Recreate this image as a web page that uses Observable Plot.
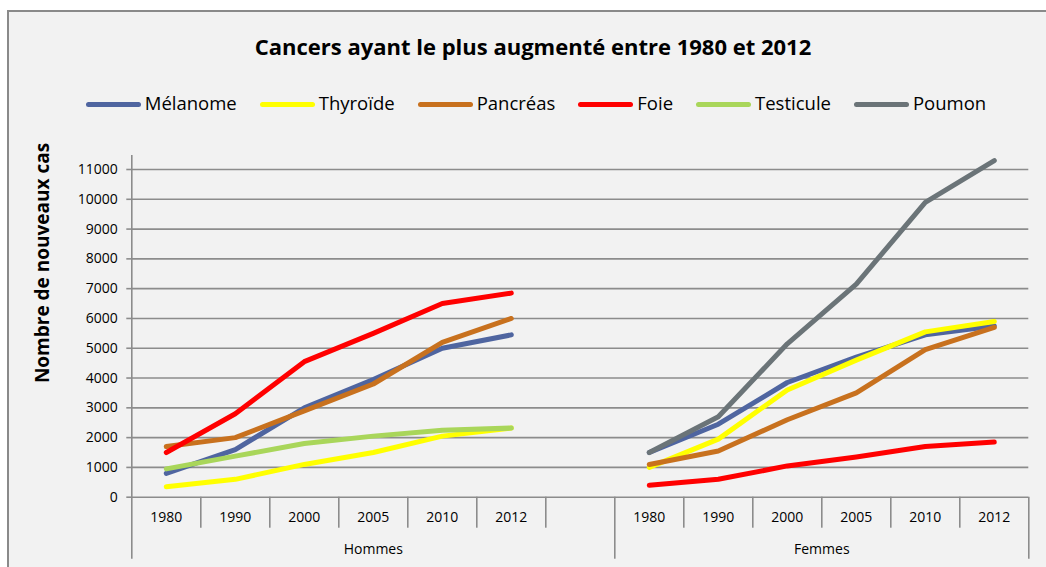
<!DOCTYPE html>
<html>
<head>
<meta charset="utf-8">
<script src="https://cdn.jsdelivr.net/npm/d3@7"></script>
<script src="https://cdn.jsdelivr.net/npm/@observablehq/plot@0.6"></script>
<style>
  html, body { margin: 0; padding: 0; background: #ffffff; width: 1046px; height: 567px; overflow: hidden; }
  body { font-family: "Open Sans", sans-serif; position: relative; }
  #frame { position: absolute; left: 7px; top: 10px; width: 1100px; height: 620px; background: #f2f2f2;
           border-left: 2px solid #8a8a8a; border-top: 2px solid #8a8a8a; }
  #title { position: absolute; left: 0; width: 1066px; top: 34.5px; text-align: center; font-weight: bold;
           font-size: 22px; line-height: 22px; color: #000; }
  #legend { position: absolute; left: 0; width: 1072px; top: 93px; display: flex; justify-content: center;
            font-size: 18.5px; line-height: 20px; color: #000; }
  .item { display: flex; align-items: center; margin: 0 11.5px; }
  .sw { width: 55px; height: 5px; border-radius: 3px; margin-right: 4px; margin-top: 2px; }
  #ytitle { position: absolute; left: 42px; top: 263px; width: 0; height: 0; }
  #ytitle span { position: absolute; left: 0; top: 0; transform: translate(-50%, -50%) rotate(-90deg);
                 white-space: nowrap; font-weight: bold; font-size: 19px; line-height: 19px; color: #000; }
  #chart { position: absolute; left: 0; top: 125px; }
</style>
</head>
<body>
<div id="frame"></div>
<div id="title">Cancers ayant le plus augmenté entre 1980 et 2012</div>
<div id="legend"></div>
<div id="chart"></div>
<div id="ytitle"><span>Nombre de nouveaux cas</span></div>
<script>
const years = ["1980", "1990", "2000", "2005", "2010", "2012"];
const groups = ["Hommes", "Femmes"];
const series = ["Mélanome", "Thyroïde", "Pancréas", "Foie", "Testicule", "Poumon"];
const colors = ["#4f65a0", "#ffff00", "#c8711e", "#ff0000", "#a9d65a", "#6b7478"];
const yTicks = [0, 1000, 2000, 3000, 4000, 5000, 6000, 7000, 8000, 9000, 10000, 11000];

// Hommes
const melanomeH  = [800, 1600, 3000, 3950, 5000, 5450];
const thyroideH  = [350, 600, 1100, 1500, 2050, 2320];
const pancreasH  = [1700, 2000, 2900, 3800, 5200, 6000];
const foieH      = [1500, 2800, 4550, 5500, 6500, 6850];
const testiculeH = [950, 1380, 1800, 2050, 2250, 2320];
const poumonH    = null;
// Femmes
const melanomeF  = [1500, 2450, 3850, 4700, 5450, 5750];
const thyroideF  = [1000, 1950, 3600, 4600, 5550, 5900];
const pancreasF  = [1100, 1550, 2600, 3500, 4950, 5700];
const foieF      = [400, 600, 1050, 1350, 1700, 1850];
const testiculeF = null;
const poumonF    = [1500, 2700, 5150, 7150, 9900, 11300];

const valuesBySeries = {
  "Mélanome":  [melanomeH, melanomeF],
  "Thyroïde":  [thyroideH, thyroideF],
  "Pancréas":  [pancreasH, pancreasF],
  "Foie":      [foieH, foieF],
  "Testicule": [testiculeH, testiculeF],
  "Poumon":    [poumonH, poumonF]
};

// category slots: Hommes years, one empty slot, Femmes years
const slots = [];
groups.forEach((g, gi) => {
  years.forEach(y => slots.push({group: g, year: y}));
  if (gi === 0) slots.push({group: g, year: ""});
});
const slotIndex = (g, y) => slots.findIndex(s => s.group === g && s.year === y);

const rows = [];
series.forEach(s => {
  groups.forEach((g, gi) => {
    const vals = valuesBySeries[s][gi];
    if (!vals) return;
    years.forEach((y, yi) => {
      rows.push({series: s, key: s + "|" + g, xi: slotIndex(g, y) + 0.5, value: vals[yi]});
    });
  });
});

const n = slots.length;
const boundaries = d3.range(0, n + 1);
const groupEdges = groups.map(g => {
  const idx = slots.map((s, i) => s.group === g ? i : -1).filter(i => i >= 0);
  return {group: g, start: d3.min(idx), end: d3.max(idx) + 1};
});
const groupStarts = groupEdges.map(e => e.start).concat([n]);
const yearBoundaries = boundaries.filter(b => !groupStarts.includes(b));
const yearCenters = slots.map((s, i) => ({c: i + 0.5, label: s.year})).filter(d => d.label !== "");
const yearLabel = new Map(yearCenters.map(d => [d.c, d.label]));
const groupCenters = groupEdges.map(e => ({c: (e.start + e.end) / 2, label: e.group}));
const groupLabel = new Map(groupCenters.map(d => [d.c, d.label]));

const grid = "#8c8c8c";

const chart = Plot.plot({
  width: 1046,
  height: 442,
  marginLeft: 131.3,
  marginRight: 17.7,
  marginTop: 30,
  marginBottom: 70.3,
  style: {background: "transparent", fontFamily: "Open Sans, sans-serif", color: "#000", overflow: "visible"},
  x: {type: "linear", domain: [0, n], axis: null, label: null},
  y: {domain: [0, 11470], axis: null, label: null},
  color: {domain: series, range: colors},
  marks: [
    Plot.ruleY(yTicks, {stroke: grid, strokeWidth: 1.6}),
    Plot.axisY({ticks: yTicks, tickSize: 5, tickPadding: 9, tickFormat: d => String(d), fontSize: 14,
                stroke: grid, strokeWidth: 1.6, label: null}),
    Plot.ruleX([0], {stroke: grid, strokeWidth: 1.6, insetBottom: -62}),
    Plot.axisX({ticks: yearBoundaries, tickSize: 31, tickFormat: () => "", stroke: grid, strokeWidth: 1.6, label: null}),
    Plot.axisX({ticks: groupStarts.filter(b => b > 0), tickSize: 62, tickFormat: () => "", stroke: grid, strokeWidth: 1.6, label: null}),
    Plot.axisX({ticks: yearCenters.map(d => d.c), tickSize: 0, tickPadding: 15, fontSize: 14,
                tickFormat: d => yearLabel.get(d), label: null}),
    Plot.axisX({ticks: groupCenters.map(d => d.c), tickSize: 0, tickPadding: 47, fontSize: 14,
                tickFormat: d => groupLabel.get(d), label: null}),
    Plot.line(rows, {x: "xi", y: "value", z: "key", stroke: "series", strokeWidth: 5,
                     strokeLinecap: "round", strokeLinejoin: "round"})
  ]
});
document.getElementById("chart").appendChild(chart);

// legend
const legend = document.getElementById("legend");
series.forEach((s, i) => {
  const item = document.createElement("div");
  item.className = "item";
  const sw = document.createElement("span");
  sw.className = "sw";
  sw.style.background = colors[i];
  const t = document.createElement("span");
  t.textContent = s;
  item.appendChild(sw);
  item.appendChild(t);
  legend.appendChild(item);
});
</script>
</body>
</html>
